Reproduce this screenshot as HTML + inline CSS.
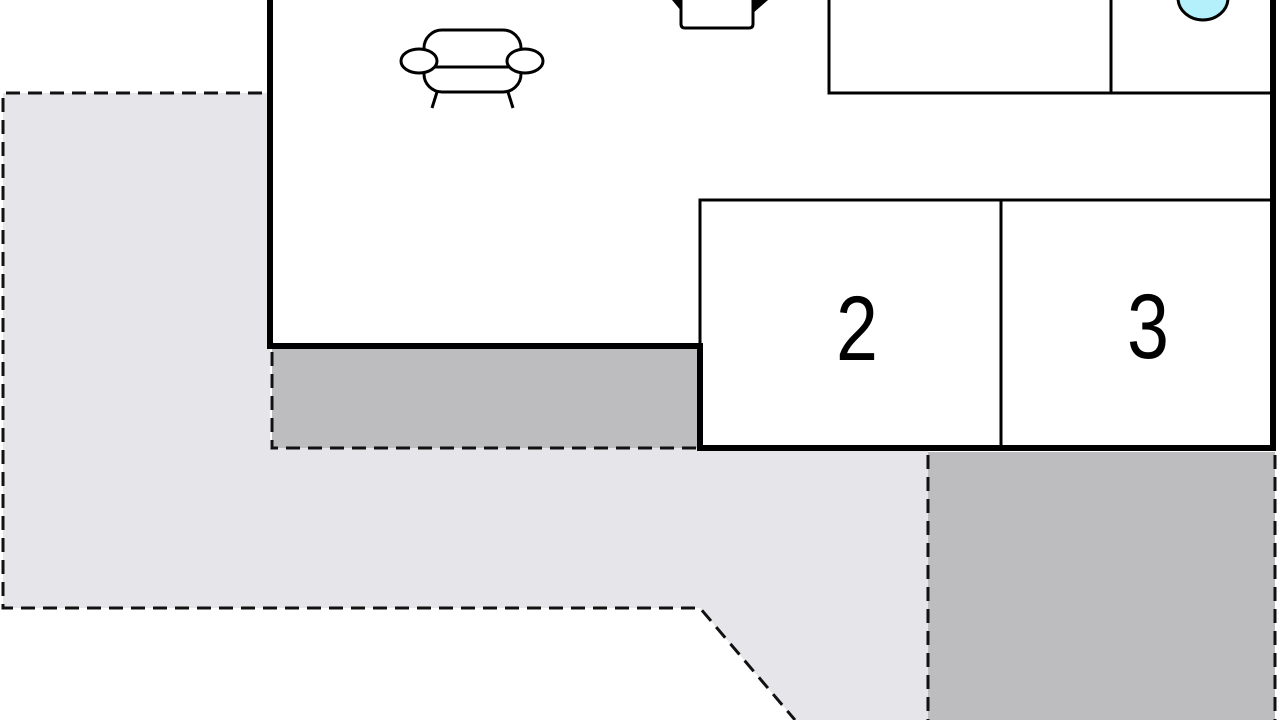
<!DOCTYPE html>
<html><head><style>body{margin:0;background:#fff}svg{display:block}</style></head><body>
<svg width="1280" height="720" viewBox="0 0 1280 720" xmlns="http://www.w3.org/2000/svg">
<rect width="1280" height="720" fill="#fff"/>
<polygon points="3,93 270,93 270,448 928,448 928,720 795,720 700,608 3,608" fill="#e6e6ea"/>
<rect x="272" y="348" width="428" height="100" fill="#bdbdbf"/>
<rect x="928" y="452" width="347" height="268" fill="#bdbdbf"/>
<g stroke="#111" stroke-width="3" stroke-dasharray="14,8" fill="none">
<polyline points="262,93 3,93 3,608 700,608 795,720"/>
<polyline points="272,352 272,448 700,448"/>
<line x1="928" y1="455" x2="928" y2="720"/>
<line x1="1275" y1="455" x2="1275" y2="720"/>
</g>
<g stroke="#000" stroke-width="6" fill="none" stroke-linecap="square">
<polyline points="270,0 270,346 700,346 700,448 1273,448 1273,0"/>
</g>
<g stroke="#000" stroke-width="3" fill="none">
<polyline points="700,346 700,200 1273,200"/>
<line x1="1001" y1="200" x2="1001" y2="448"/>
<polyline points="829,0 829,93 1273,93"/>
<line x1="1111" y1="0" x2="1111" y2="93"/>
</g>
<ellipse cx="1203" cy="-2" rx="25" ry="22" fill="#b3f0fb" stroke="#000" stroke-width="3"/>
<g stroke="#000" stroke-width="3" fill="#fff">
<rect x="424" y="30" width="97" height="62" rx="18"/>
<line x1="437" y1="92" x2="432" y2="108"/>
<line x1="508" y1="92" x2="513" y2="108"/>
<line x1="432" y1="67" x2="512" y2="67"/>
<ellipse cx="419" cy="61" rx="18" ry="12"/>
<ellipse cx="525" cy="61" rx="18" ry="12"/>
</g>
<polygon points="672,0 682,0 682,12" fill="#000"/>
<polygon points="768,0 752,0 752,14" fill="#000"/>
<path d="M681,0 V24 Q681,28 685,28 H749 Q753,28 753,24 V0" fill="#fff" stroke="#000" stroke-width="3"/>
<g font-family="Liberation Sans, sans-serif" font-size="92" fill="#000" text-anchor="middle">
<text transform="translate(857,360) scale(0.82,1)">2</text>
<text transform="translate(1148,358) scale(0.82,1)">3</text>
</g>
</svg>
</body></html>
